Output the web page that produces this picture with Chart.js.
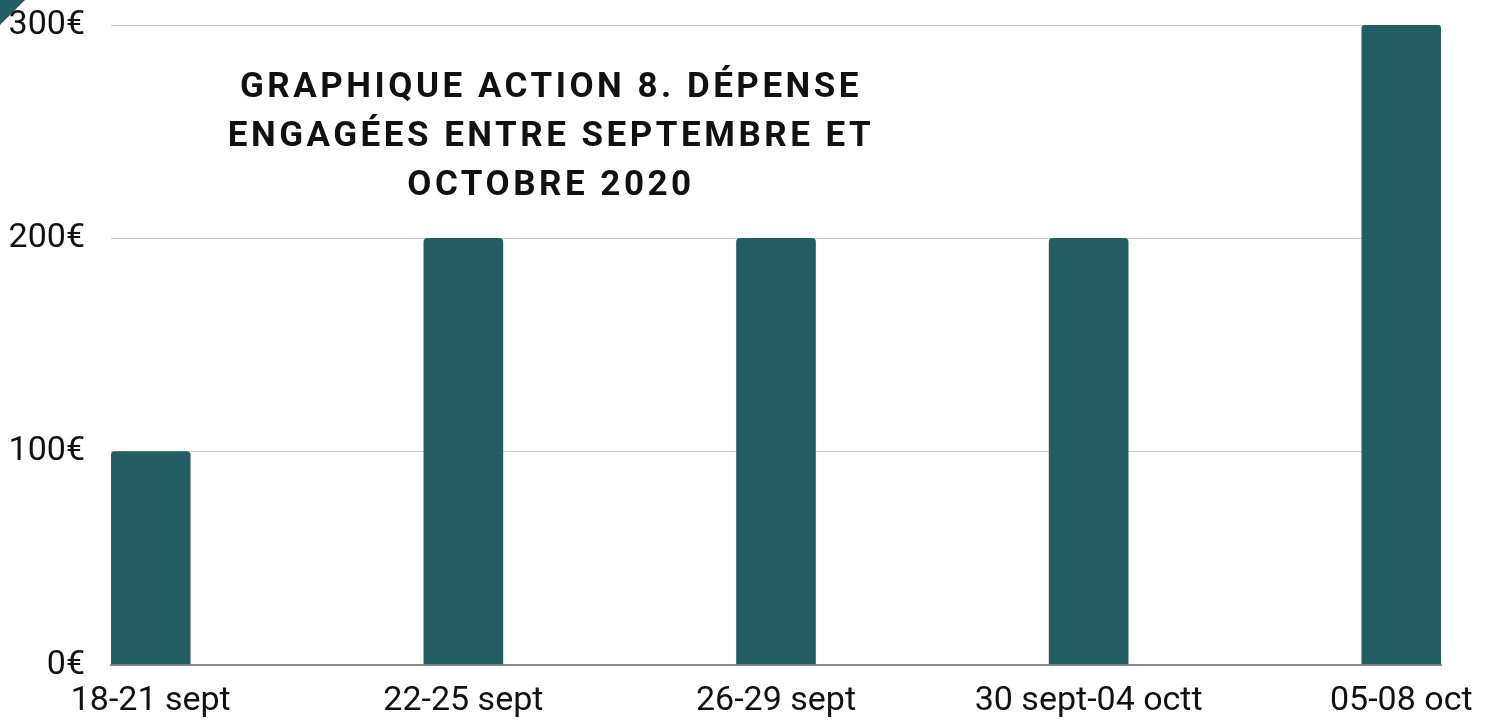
<!DOCTYPE html>
<html>
<head>
<meta charset="utf-8">
<script src="https://cdn.jsdelivr.net/npm/chart.js@4"></script>
<style>
    body { margin: 0; background: #fff; }
    #wrap { position: relative; width: 1491px; height: 720px; }
    #corner {
        position: absolute; left: 0; top: 0; width: 25px; height: 25px;
        background: #235e64; clip-path: polygon(0 0, 100% 0, 0 100%);
    }
    #title {
        position: absolute; left: 151px; top: 61px; width: 800px;
        text-align: center; font-family: Roboto, sans-serif; font-weight: bold;
        font-size: 35px; letter-spacing: 3.5px; line-height: 49px; color: #111;
    }
</style>
</head>
<body>
<div id="wrap">
    <canvas id="chart" width="1491" height="720"></canvas>
    <div id="corner"></div>
    <div id="title">GRAPHIQUE ACTION 8. DÉPENSE<br>ENGAGÉES ENTRE SEPTEMBRE ET<br>OCTOBRE 2020</div>
</div>
<script>
// data
const periods = ["18-21 sept", "22-25 sept", "26-29 sept", "30 sept-04 octt", "05-08 oct"];
const spent = [100, 200, 200, 200, 300];
const yMax = 300;
const yStep = 100;

const barColor = "#235e64";

const ctx = document.getElementById("chart");
new Chart(ctx, {
    type: "bar",
    data: {
        datasets: [{
            data: spent.map((v, i) => ({ x: i, y: v })),
            backgroundColor: barColor,
            barThickness: 79,
            borderRadius: 4
        }]
    },
    options: {
        responsive: false,
        animation: false,
        layout: { padding: { top: 25, right: 50, left: 0, bottom: 0 } },
        plugins: { legend: { display: false }, tooltip: { enabled: false } },
        scales: {
            x: {
                type: "linear",
                offset: false,
                min: -0.127,
                max: periods.length - 1 + 0.127,
                afterBuildTicks: axis => { axis.ticks = periods.map((p, i) => ({ value: i })); },
                afterFit: axis => { axis.height = 55; },
                grid: { display: false },
                border: { color: "#8a8a8a", width: 2 },
                ticks: {
                    autoSkip: false, maxRotation: 0, padding: 8,
                    color: "#111",
                    font: { family: "Roboto", size: 34 },
                    callback: v => periods[v] ?? ""
                }
            },
            y: {
                min: 0,
                max: yMax,
                afterFit: axis => {
                    axis.width = 111;
                    axis.paddingTop = 0;
                    axis.paddingBottom = 0;
                },
                border: { display: false },
                grid: {
                    drawTicks: false,
                    color: c => c.tick.value === 0 ? "#8a8a8a" : "#cccccc",
                    lineWidth: c => c.tick.value === 0 ? 2 : 1
                },
                ticks: {
                    stepSize: yStep, padding: 26,
                    color: "#111",
                    font: { family: "Roboto", size: 34 },
                    callback: v => v + "€"
                }
            }
        }
    }
});
</script>
</body>
</html>
